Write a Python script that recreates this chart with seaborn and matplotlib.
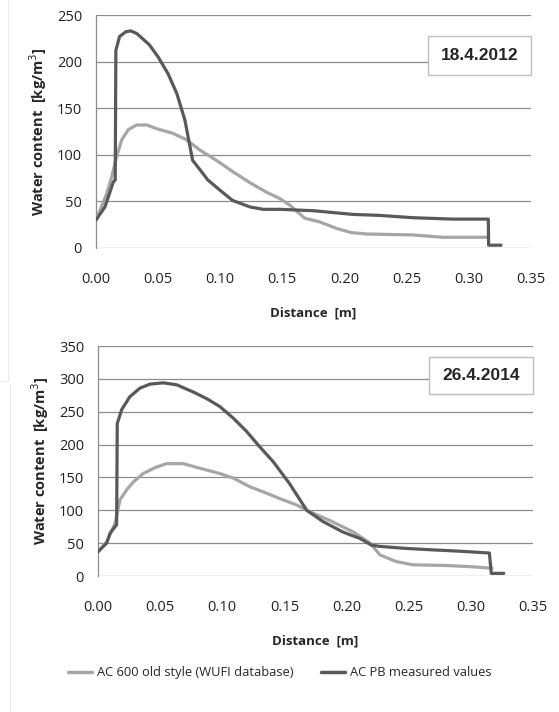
import numpy as np
import pandas as pd
import seaborn as sns
from matplotlib import pyplot as plt
from matplotlib.patches import Rectangle

# 18.4.2012 - AC 600 old style (WUFI database)
dist_2012_wufi = [0.0, 0.0086, 0.0126, 0.0166, 0.0207, 0.026, 0.0327, 0.041, 0.0488, 0.062,
                  0.073, 0.0837, 0.097, 0.110, 0.124, 0.137, 0.148, 0.156, 0.168, 0.180,
                  0.1936, 0.2057, 0.218, 0.255, 0.279, 0.316]
wc_2012_wufi = [30, 58, 76, 98, 116, 127, 132, 132, 128, 123,
                116, 105, 94, 82, 70, 60, 53, 46, 32, 28,
                21, 16.5, 15, 14, 11.5, 11.5]

# 18.4.2012 - AC PB measured values
dist_2012_meas = [0.0, 0.0072, 0.014, 0.0155, 0.016, 0.019, 0.024, 0.028, 0.033, 0.038,
                  0.043, 0.050, 0.058, 0.065, 0.0716, 0.0778, 0.0837, 0.090, 0.0998, 0.110,
                  0.124, 0.1346, 0.148, 0.175, 0.207, 0.228, 0.255, 0.287, 0.3157, 0.316, 0.326]
wc_2012_meas = [30, 44, 71, 73, 212, 227, 232, 233, 230, 224,
                218, 205, 187, 166, 137, 94, 84, 73, 62, 51,
                44, 41.5, 41.5, 40, 36, 35, 32.5, 31, 31, 3, 3]

# 26.4.2014 - AC 600 old style (WUFI database)
dist_2014_wufi = [0.0, 0.007, 0.0137, 0.0177, 0.023, 0.0284, 0.0364, 0.0472, 0.0553, 0.0686,
                  0.082, 0.098, 0.109, 0.122, 0.1357, 0.146, 0.160, 0.168, 0.186, 0.2055,
                  0.219, 0.227, 0.240, 0.2537, 0.2806, 0.302, 0.3154, 0.317]
wc_2014_wufi = [37, 52, 80, 116, 131, 143, 156, 166, 171, 171,
                164, 156, 149, 136, 126, 118, 108, 100, 85, 67,
                50, 32, 22, 17, 16, 14, 12, 12]

# 26.4.2014 - AC PB measured values
dist_2014_meas = [0.0, 0.007, 0.0097, 0.0137, 0.0150, 0.0155, 0.019, 0.0257, 0.0338, 0.0418,
                  0.0525, 0.0633, 0.0767, 0.0874, 0.098, 0.109, 0.1196, 0.130, 0.141, 0.154,
                  0.168, 0.181, 0.197, 0.211, 0.220, 0.227, 0.248, 0.267, 0.2886, 0.315,
                  0.3165, 0.3266]
wc_2014_meas = [37, 50, 65, 75, 78, 232, 253, 273, 286, 292,
                294, 291, 280, 270, 258, 240, 220, 197, 174, 141,
                100, 83, 67, 57, 47, 45, 42, 40, 38, 35,
                4, 4]

series_names = ['AC 600 old style (WUFI database)', 'AC PB measured values']
series_colors = ['#a6a6a6', '#595959']
panel_dates = ['18.4.2012', '26.4.2014']
y_max = [250, 350]


def make_frame(d_wufi, w_wufi, d_meas, w_meas):
    a = pd.DataFrame({'Distance': d_wufi, 'Water': w_wufi, 'Series': series_names[0]})
    b = pd.DataFrame({'Distance': d_meas, 'Water': w_meas, 'Series': series_names[1]})
    return pd.concat([a, b], ignore_index=True)


frames = [make_frame(dist_2012_wufi, wc_2012_wufi, dist_2012_meas, wc_2012_meas),
          make_frame(dist_2014_wufi, wc_2014_wufi, dist_2014_meas, wc_2014_meas)]

sns.set_style('white')
plt.rcParams['font.family'] = ['Open Sans', 'DejaVu Sans']

fig = plt.figure(figsize=(5.59, 7.12), dpi=100)
axes = [fig.add_axes([0.1717, 0.6517, 0.778, 0.3272]),
        fig.add_axes([0.1753, 0.191, 0.778, 0.323])]

# box position of the date label, in axes fractions (x0, y0, x1, y1)
date_boxes = [(0.763, 0.742, 1.0, 0.91), (0.761, 0.791, 1.0, 0.952)]

for i, ax in enumerate(axes):
    sns.lineplot(data=frames[i], x='Distance', y='Water', hue='Series',
                 palette=series_colors, sort=False, estimator=None,
                 linewidth=2.3, legend=False, ax=ax, zorder=3)
    ax.set_xlim(0, 0.35)
    ax.set_ylim(0, y_max[i])
    ax.set_xticks(np.arange(0, 0.351, 0.05))
    ax.set_xticklabels(['%.2f' % v for v in np.arange(0, 0.351, 0.05)])
    ax.set_yticks(np.arange(0, y_max[i] + 1, 50))
    ax.yaxis.grid(True, color='#8c8c8c', linewidth=0.9)
    ax.set_axisbelow(True)
    for s in ['top', 'right', 'bottom']:
        ax.spines[s].set_visible(False)
    ax.spines['left'].set_color('#8c8c8c')
    ax.spines['left'].set_linewidth(0.9)
    ax.tick_params(axis='both', length=0, labelsize=10.5, colors='#222222')
    ax.tick_params(axis='x', pad=17)
    ax.tick_params(axis='y', pad=10)
    ax.set_xlabel('Distance  [m]', fontsize=9.5, fontweight='bold', labelpad=14)
    ax.set_ylabel('Water content  [kg/m$^3$]', fontsize=10.5, fontweight='bold', labelpad=6)

    x0, y0, x1, y1 = date_boxes[i]
    ax.add_patch(Rectangle((x0, y0), x1 - x0, y1 - y0, transform=ax.transAxes,
                           facecolor='white', edgecolor='#bfbfbf', linewidth=1,
                           zorder=4, clip_on=False))
    ax.text((x0 + x1) / 2, (y0 + y1) / 2, panel_dates[i], transform=ax.transAxes,
            ha='center', va='center', fontsize=12.5, fontweight='bold',
            family='Liberation Sans', zorder=5)

# faint chart-area borders of the original figure
fig.add_artist(plt.Line2D([8 / 559, 8 / 559], [1, 1 - 381 / 712], color='#ececec', linewidth=0.8))
fig.add_artist(plt.Line2D([0, 8 / 559], [1 - 381 / 712, 1 - 381 / 712], color='#ececec', linewidth=0.8))
fig.add_artist(plt.Line2D([10 / 559, 10 / 559], [1 - 384 / 712, 0], color='#ececec', linewidth=0.8))

handles = [plt.Line2D([], [], color=c, linewidth=2.5) for c in series_colors]
fig.legend(handles, series_names, loc='center', bbox_to_anchor=(0.5, 0.055), ncol=2,
           frameon=False, fontsize=9.3, handlelength=1.9, handletextpad=0.35, columnspacing=2.1)

fig.savefig('out.png', dpi=100)
plt.close()
